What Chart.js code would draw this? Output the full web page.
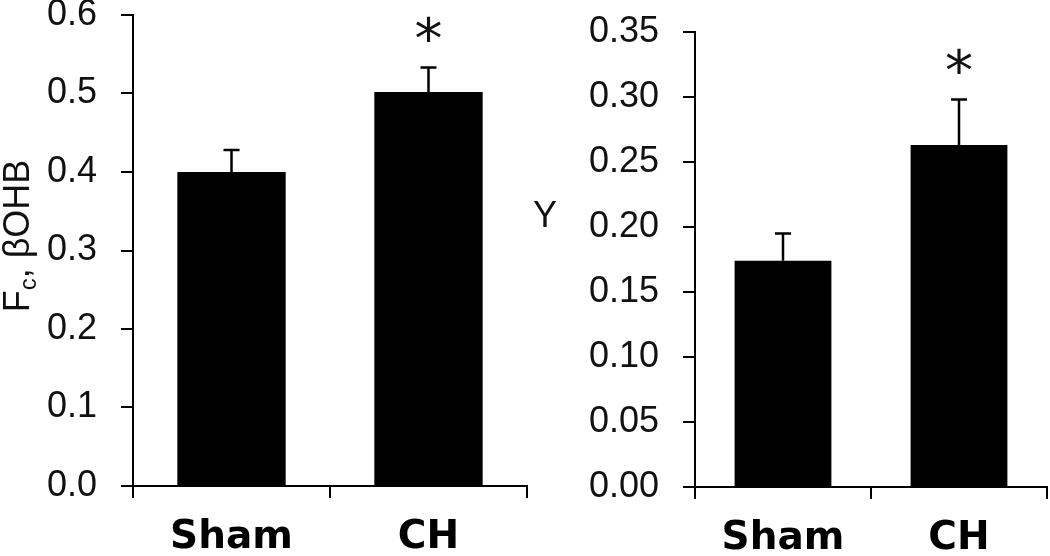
<!DOCTYPE html>
<html>
<head>
<meta charset="utf-8">
<script src="https://cdn.jsdelivr.net/npm/chart.js@4"></script>
<style>
  html, body { margin:0; padding:0; background:#fff; }
  #wrap { position:relative; width:1050px; height:556px; overflow:hidden; }
  .panel { position:absolute; top:0; height:556px; }
  #leftBox { left:0; width:530px; }
  #rightBox { left:530px; width:520px; }
</style>
</head>
<body>
<div id="wrap">
  <div class="panel" id="leftBox"><canvas id="leftChart" width="530" height="556"></canvas></div>
  <div class="panel" id="rightBox"><canvas id="rightChart" width="520" height="556"></canvas></div>
</div>
<script>
// ---- Data ----
const groups = ['Sham', 'CH'];

// left panel: Fc, bOHB
const fcMeans = [0.400, 0.502];
const fcErrors = [0.028, 0.031];
const fcSig = [false, true];
const fcTickValues = [0, 0.1, 0.2, 0.3, 0.4, 0.5, 0.6];
const fcTickLabels = ['0.0', '0.1', '0.2', '0.3', '0.4', '0.5', '0.6'];

// right panel: Y
const yMeans = [0.174, 0.263];
const yErrors = [0.021, 0.035];
const ySig = [false, true];
const yTickValues = [0, 0.05, 0.10, 0.15, 0.20, 0.25, 0.30, 0.35];
const yTickLabels = ['0.00', '0.05', '0.10', '0.15', '0.20', '0.25', '0.30', '0.35'];

const TICK_FONT = { family: '"Liberation Sans", Arial, sans-serif', size: 36 };
const CAT_FONT = { family: '"DejaVu Sans", sans-serif', size: 39, weight: 'bold' };

// error bars (upper half only) + significance star
const errorBars = {
  id: 'errorBars',
  afterDatasetsDraw(chart, args, opts) {
    const ctx = chart.ctx;
    const ys = chart.scales.y;
    const meta = chart.getDatasetMeta(0);
    ctx.save();
    ctx.strokeStyle = '#000';
    ctx.lineWidth = 2.5;
    opts.means.forEach((m, i) => {
      const x = meta.data[i].x;
      const y0 = ys.getPixelForValue(m);
      const y1 = ys.getPixelForValue(m + opts.errors[i]);
      ctx.beginPath();
      ctx.moveTo(x, y0); ctx.lineTo(x, y1);
      ctx.moveTo(x - 8, y1); ctx.lineTo(x + 8, y1);
      ctx.stroke();
      if (opts.sig[i]) {
        ctx.fillStyle = '#111';
        ctx.font = '56px "DejaVu Sans", sans-serif';
        ctx.textAlign = 'center';
        ctx.textBaseline = 'middle';
        ctx.fillText('*', x, y1 - 24);
      }
    });
    ctx.restore();
  }
};

// axis titles drawn by hand (needs subscript)
const axisTitle = {
  id: 'axisTitle',
  afterDraw(chart, args, opts) {
    const ctx = chart.ctx;
    ctx.save();
    ctx.fillStyle = '#111';
    ctx.textBaseline = 'alphabetic';
    if (opts.kind === 'fc') {
      const big = '36px "Liberation Sans", Arial, sans-serif';
      const small = '24px "Liberation Sans", Arial, sans-serif';
      const parts = [['F', big, 0], ['c', small, 7], [', \u03b2OHB', big, 0]];
      let total = 0;
      parts.forEach(p => { ctx.font = p[1]; total += ctx.measureText(p[0]).width; });
      ctx.translate(opts.x, opts.y);
      ctx.rotate(-Math.PI / 2);
      let cx = -total / 2;
      parts.forEach(p => {
        ctx.font = p[1];
        ctx.textAlign = 'left';
        ctx.fillText(p[0], cx, p[2]);
        cx += ctx.measureText(p[0]).width;
      });
    } else {
      ctx.font = '36px "Liberation Sans", Arial, sans-serif';
      ctx.textAlign = 'center';
      ctx.textBaseline = 'middle';
      ctx.fillText(opts.text, opts.x, opts.y);
    }
    ctx.restore();
  }
};

function makeChart(canvasId, means, errors, sig, tickValues, tickLabels, box, titleOpts) {
  return new Chart(document.getElementById(canvasId), {
    type: 'bar',
    data: {
      labels: groups,
      datasets: [{
        data: means,
        backgroundColor: '#000',
        borderColor: '#000',
        borderWidth: 0,
        barPercentage: 0.55,
        categoryPercentage: 1
      }]
    },
    options: {
      responsive: false,
      animation: false,
      devicePixelRatio: 1,
      layout: { padding: { top: box.top, right: 3, left: 0, bottom: 0 } },
      plugins: {
        legend: { display: false },
        tooltip: { enabled: false },
        errorBars: { means, errors, sig },
        axisTitle: titleOpts
      },
      scales: {
        x: {
          grid: { display: true, drawOnChartArea: false, drawTicks: true, tickLength: 12, color: '#000', lineWidth: 2, offset: true },
          border: { display: true, color: '#000', width: 2 },
          ticks: { color: '#000', font: CAT_FONT, padding: 16, maxRotation: 0 },
          afterFit(s) { s.height = box.xh; s.paddingLeft = 0; s.paddingRight = 0; }
        },
        y: {
          min: tickValues[0],
          max: tickValues[tickValues.length - 1],
          grid: { display: true, drawOnChartArea: false, drawTicks: true, tickLength: 12, color: '#000', lineWidth: 2 },
          border: { display: true, color: '#000', width: 2 },
          afterBuildTicks(s) { s.ticks = tickValues.map(v => ({ value: v })); },
          ticks: {
            color: '#111',
            font: TICK_FONT,
            padding: 24,
            callback: (v, i) => tickLabels[i]
          },
          afterFit(s) { s.width = box.yw; s.paddingTop = 0; s.paddingBottom = 0; }
        }
      }
    },
    plugins: [errorBars, axisTitle]
  });
}

makeChart('leftChart', fcMeans, fcErrors, fcSig, fcTickValues, fcTickLabels,
  { top: 15, xh: 70, yw: 133 }, { kind: 'fc', x: 29, y: 236 });
makeChart('rightChart', yMeans, yErrors, ySig, yTickValues, yTickLabels,
  { top: 32, xh: 69, yw: 165 }, { kind: 'y', text: 'Y', x: 15, y: 217 });
</script>
</body>
</html>
